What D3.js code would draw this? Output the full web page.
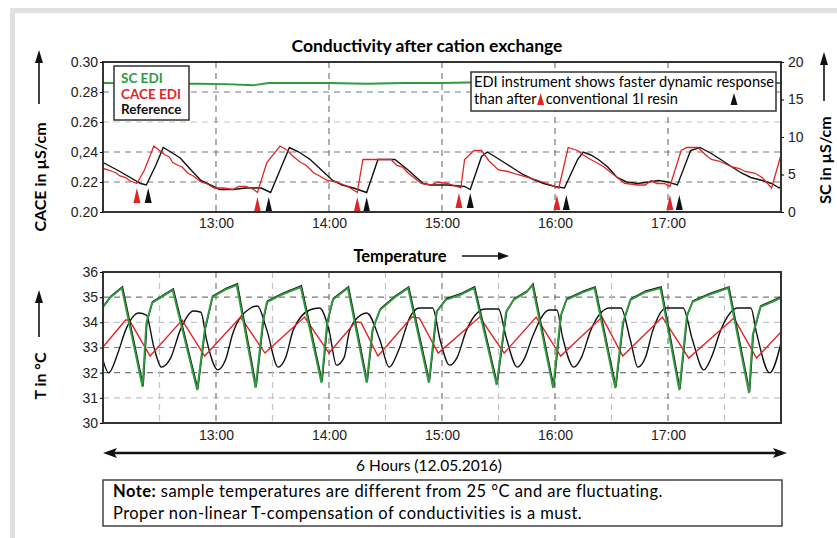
<!DOCTYPE html>
<html>
<head>
<meta charset="utf-8">
<script src="https://cdn.jsdelivr.net/npm/d3@7"></script>
<style>
body { margin: 0; background: #fff; }
svg { display: block; font-family: Lato, 'Noto Sans', sans-serif; }
.tick text { font-size: 14px; fill: #222; }
.grid line { stroke: #7a7a7a; stroke-width: 1.2; stroke-dasharray: 6,5; }
.grid line.minor { stroke: #c4c4c4; }
</style>
</head>
<body>
<svg id="chart" width="837" height="538"></svg>
<script>
// time is given in minutes after 12:00 (12.05.2016)
var startTime = new Date(2016, 4, 12, 12, 0);
var hourLabels = ['13:00', '14:00', '15:00', '16:00', '17:00'];
var caceTickValues = [0.20, 0.22, 0.24, 0.26, 0.28, 0.30];
var caceTickLabels = ['0.20', '0.22', '0,24', '0.26', '0.28', '0.30'];
var scTickValues = [0, 5, 10, 15, 20];
var tempTickValues = [30, 31, 32, 33, 34, 35, 36];

// conductivity plot
var scEdi = [[0,17.2],[15,17.15],[30,17.1],[50,17.1],[65,17.05],[80,16.9],[88,17.2],[100,17.2],[120,17.2],[140,17.1],[160,17.2],[180,17.2],[200,17.3],[215,17.2],[230,17.2],[245,17.0],[260,17.1],[280,17.1],[300,17.2],[320,17.1],[340,17.2],[360,17.2]];

var caceEdi = [[0,0.229],[3,0.228],[5,0.227],[7,0.226],[9,0.224],[12,0.223],[14,0.221],[18,0.219],[22,0.228],[27,0.244],[30,0.241],[33,0.238],[35,0.237],[37,0.233],[40,0.231],[42,0.230],[45,0.226],[48,0.224],[52,0.220],[55,0.219],[59,0.216],[64,0.216],[69,0.215],[72,0.217],[76,0.217],[80,0.215],[82,0.213],[87,0.233],[94,0.244],[98,0.241],[101,0.237],[105,0.233],[108,0.231],[112,0.226],[115,0.224],[119,0.221],[124,0.220],[130,0.217],[135,0.213],[138,0.235],[144,0.235],[153,0.235],[156,0.231],[159,0.230],[162,0.226],[166,0.222],[169,0.219],[174,0.218],[178,0.220],[183,0.219],[190,0.216],[192,0.235],[197,0.241],[201,0.241],[205,0.234],[210,0.228],[215,0.227],[220,0.225],[226,0.223],[231,0.221],[238,0.218],[242,0.216],[247,0.243],[252,0.241],[255,0.238],[259,0.235],[262,0.233],[266,0.230],[270,0.226],[277,0.219],[284,0.218],[288,0.218],[291,0.221],[294,0.219],[298,0.219],[301,0.217],[307,0.241],[310,0.243],[316,0.243],[320,0.238],[323,0.235],[327,0.234],[334,0.230],[338,0.229],[341,0.227],[346,0.226],[350,0.223],[355,0.216],[360,0.238]];

var caceRef = [[0,0.233],[9,0.227],[20,0.219],[23,0.218],[28,0.231],[32,0.243],[36,0.240],[41,0.236],[46,0.229],[52,0.221],[57,0.218],[62,0.215],[69,0.215],[76,0.216],[84,0.216],[89,0.213],[94,0.228],[99,0.243],[104,0.240],[110,0.235],[116,0.228],[122,0.221],[127,0.218],[133,0.216],[140,0.213],[146,0.235],[151,0.235],[155,0.235],[162,0.228],[170,0.219],[174,0.218],[183,0.218],[192,0.217],[195,0.215],[201,0.237],[204,0.240],[208,0.237],[213,0.233],[218,0.229],[223,0.225],[228,0.222],[234,0.219],[240,0.217],[245,0.216],[252,0.235],[255,0.240],[259,0.238],[263,0.235],[268,0.230],[273,0.223],[278,0.220],[284,0.219],[290,0.220],[295,0.221],[300,0.220],[305,0.218],[312,0.241],[317,0.243],[320,0.241],[323,0.239],[328,0.235],[334,0.230],[339,0.226],[344,0.223],[350,0.221],[355,0.219],[359,0.216],[360,0.217]];

// regeneration markers [minute, tip level in µS/cm]
var caceMarks = [[18,0.216],[82,0.210],[135,0.210],[189,0.2127],[241,0.2113],[301,0.2113]];
var refMarks = [[24,0.216],[88,0.210],[140,0.210],[195,0.2127],[246,0.2113],[306,0.2113]];

// temperature plot
var tempSc = [[0,34.6],[4,35.0],[10,35.36],[21.3,31.43],[23.9,33.97],[26.6,34.77],[31,35.0],[37.2,35.28],[50,31.31],[54.2,33.7],[58.5,35.0],[65,35.3],[71.3,35.48],[81.9,31.4],[85.1,34.1],[87.2,34.8],[95,35.1],[105.8,35.4],[116.5,31.6],[119.7,34.0],[122.3,34.9],[130.3,35.36],[140.9,31.6],[143.6,33.69],[147.3,34.49],[155,35.0],[162.2,35.36],[173.9,31.6],[177.6,34.4],[182.9,34.89],[190,35.1],[197.8,35.36],[209.5,31.51],[214.8,34.4],[218,34.89],[225,35.2],[228.7,35.48],[239.8,31.39],[243,34.25],[246.8,34.89],[255,35.2],[261.6,35.36],[272.3,31.39],[276.5,33.97],[280.3,34.89],[288,35.2],[296.2,35.36],[306.9,31.31],[310.6,34.25],[313.8,34.81],[322,35.1],[332.4,35.36],[343,31.19],[345.7,33.5],[349.4,34.61],[355,34.8],[360,34.97]];

var tempCace = [[0,33.02],[12.8,34.09],[14,34.09],[25,32.66],[42,34.09],[54.2,32.66],[73.9,34.21],[86.2,32.78],[107.4,34.21],[120.7,32.78],[134,34.01],[137,34.0],[146.2,32.66],[164.9,34.21],[168,34.17],[178.2,32.78],[200.5,34.21],[213.8,32.78],[230.8,34.21],[243,32.66],[265.9,34.21],[276,32.66],[297.8,34.21],[311.1,32.58],[335,34.17],[347.8,32.58],[360,33.62]];

var tempRef = [[0,32.5],[3.7,31.99],[8,32.8],[12.8,33.69],[19.7,34.37],[23.4,34.29],[27.7,33.02],[31.9,32.22],[36,32.6],[41,33.69],[48,34.45],[52,34.4],[55.3,33.3],[61.2,32.11],[65,32.5],[69.1,33.58],[78,34.55],[82,34.65],[87.2,33.69],[93.1,32.22],[97,32.6],[101,33.69],[110,34.5],[115.4,34.57],[120.7,33.69],[124.4,32.3],[128,32.6],[131.4,33.69],[137,34.3],[140.4,34.37],[147.3,33.30],[152.6,32.22],[157,32.9],[163.3,34.21],[168,34.57],[175,34.57],[179.2,33.30],[184.5,32.3],[188,32.6],[193.6,33.69],[203,34.53],[210,34.53],[214.8,33.42],[220.7,32.22],[224,32.6],[228.7,33.42],[237.7,34.49],[241.4,34.49],[244.6,33.42],[250,32.22],[254,32.6],[259,33.69],[269.6,34.57],[275,34.57],[280.3,33.30],[284,32.22],[288,32.6],[292.5,33.69],[299.9,34.57],[308.5,34.57],[313.8,33.30],[319.1,32.11],[323,32.6],[328.1,33.69],[337.2,34.57],[344.1,34.57],[347.8,33.58],[354.7,31.99],[360,33.18]];

var colors = { sc: '#2f9a3e', cace: '#e12526', ref: '#111' };

var svg = d3.select('#chart');

function toTime(m) { return d3.timeMinute.offset(startTime, m); }
function hourTime(label) {
	var p = label.split(':');
	return new Date(2016, 4, 12, +p[0], +p[1]);
}

var x = d3.scaleTime()
	.domain([startTime, toTime(360)])
	.range([103, 781]);

drawFrame();
drawConductivity();
drawTemperature();
drawFooter();

function drawFrame() {
	svg.append('rect').attr('x', 10).attr('y', 8).attr('width', 827).attr('height', 5).attr('fill', '#e1e1e1');
	svg.append('rect').attr('x', 10).attr('y', 8).attr('width', 5).attr('height', 530).attr('fill', '#e1e1e1');
}

function upArrow(g, cx, y0, y1) {
	g.append('line').attr('x1', cx).attr('x2', cx).attr('y1', y0).attr('y2', y1 + 10)
		.attr('stroke', '#111').attr('stroke-width', 1.6);
	g.append('path')
		.attr('d', 'M' + (cx - 4) + ',' + (y1 + 13) + ' L' + cx + ',' + y1 + ' L' + (cx + 4) + ',' + (y1 + 13) + ' Z')
		.attr('fill', '#111');
}

function triangle(cx, tipY, w, h) {
	return 'M' + (cx - w / 2) + ',' + (tipY + h) + ' L' + cx + ',' + tipY + ' L' + (cx + w / 2) + ',' + (tipY + h) + ' Z';
}

function gridLines(g, yScale, yValues, minorY, xValues, minorX, top, bottom) {
	var grid = g.append('g').attr('class', 'grid');
	grid.selectAll('.hgrid')
		.data(yValues)
		.enter()
		.append('line')
		.attr('class', function(d) { return minorY.indexOf(d) >= 0 ? 'hgrid minor' : 'hgrid' })
		.attr('x1', x.range()[0]).attr('x2', x.range()[1])
		.attr('y1', function(d) { return yScale(d) }).attr('y2', function(d) { return yScale(d) });
	grid.selectAll('.vgrid')
		.data(xValues)
		.enter()
		.append('line')
		.attr('class', function(d) { return minorX.indexOf(d) >= 0 ? 'vgrid minor' : 'vgrid' })
		.attr('x1', function(d) { return x(toTime(d)) }).attr('x2', function(d) { return x(toTime(d)) })
		.attr('y1', top).attr('y2', bottom);
}

function drawConductivity() {
	var y = d3.scaleLinear().domain([0.20, 0.30]).range([212, 62]);
	var ySc = d3.scaleLinear().domain([0, 20]).range([212, 62]);
	var g = svg.append('g');

	g.append('text')
		.attr('x', 427).attr('y', 52)
		.attr('text-anchor', 'middle')
		.attr('font-weight', 'bold').attr('font-size', 17.5)
		.text('Conductivity after cation exchange');

	gridLines(g, y, [0.22, 0.24, 0.26, 0.28], [0.26], [60, 120, 180, 240, 300], [], 62, 212);

	var line = d3.line()
		.x(function(d) { return x(toTime(d[0])) })
		.y(function(d) { return y(d[1]) });
	var lineSc = d3.line()
		.x(function(d) { return x(toTime(d[0])) })
		.y(function(d) { return ySc(d[1]) });

	g.append('path').attr('d', lineSc(scEdi)).attr('fill', 'none').attr('stroke', colors.sc).attr('stroke-width', 1.8);
	g.append('path').attr('d', line(caceRef)).attr('fill', 'none').attr('stroke', colors.ref).attr('stroke-width', 1.4);
	g.append('path').attr('d', line(caceEdi)).attr('fill', 'none').attr('stroke', colors.cace).attr('stroke-width', 1.3);

	g.selectAll('.mark-cace')
		.data(caceMarks)
		.enter()
		.append('path')
		.attr('d', function(d) { return triangle(x(toTime(d[0])), y(d[1]), 7, 15) })
		.attr('fill', colors.cace);
	g.selectAll('.mark-ref')
		.data(refMarks)
		.enter()
		.append('path')
		.attr('d', function(d) { return triangle(x(toTime(d[0])), y(d[1]), 7, 15) })
		.attr('fill', colors.ref);

	// plot frame
	g.append('rect')
		.attr('x', 103).attr('y', 62).attr('width', 678).attr('height', 150)
		.attr('fill', 'none').attr('stroke', '#333').attr('stroke-width', 2);

	// axes
	g.append('g')
		.attr('transform', 'translate(103,0)')
		.call(d3.axisLeft(y).tickValues(caceTickValues).tickSize(3).tickPadding(2)
			.tickFormat(function(d, i) { return caceTickLabels[i] }))
		.call(function(a) { a.select('.domain').remove() });
	g.append('g')
		.attr('transform', 'translate(781,0)')
		.call(d3.axisRight(ySc).tickValues(scTickValues).tickSize(3).tickPadding(4))
		.call(function(a) { a.select('.domain').remove() });
	g.append('g')
		.attr('transform', 'translate(0,212)')
		.call(d3.axisBottom(x).tickValues(hourLabels.map(hourTime)).tickSize(0).tickPadding(6)
			.tickFormat(d3.timeFormat('%H:%M')))
		.call(function(a) { a.select('.domain').remove() });

	// legend
	var legend = g.append('g').attr('transform', 'translate(114,66)');
	legend.append('rect').attr('width', 75).attr('height', 54)
		.attr('fill', '#fff').attr('stroke', '#333').attr('stroke-width', 1.5);
	legend.selectAll('text')
		.data([['SC EDI', colors.sc], ['CACE EDI', colors.cace], ['Reference', colors.ref]])
		.enter()
		.append('text')
		.attr('x', 7).attr('y', function(d, i) { return 17 + i * 15.5 })
		.attr('font-weight', 'bold').attr('font-size', 13.5)
		.attr('fill', function(d) { return d[1] })
		.text(function(d) { return d[0] });

	// annotation
	var note = g.append('g').attr('transform', 'translate(471,72)');
	note.append('rect').attr('width', 305).attr('height', 39)
		.attr('fill', '#fff').attr('stroke', '#333').attr('stroke-width', 1.5);
	note.append('text').attr('x', 3).attr('y', 15).attr('font-size', 14.6)
		.text('EDI instrument shows faster dynamic response');
	var t1 = note.append('text').attr('x', 3).attr('y', 32).attr('font-size', 14.6).text('than after');
	var w1 = t1.node().getComputedTextLength();
	note.append('path').attr('d', triangle(3 + w1 + 4, 21, 7, 12)).attr('fill', colors.cace);
	note.append('text').attr('x', 3 + w1 + 9).attr('y', 32).attr('font-size', 14.6).text('conventional 1l resin');
	note.append('path').attr('d', triangle(263, 21, 7, 12)).attr('fill', colors.ref);

	// axis titles
	svg.append('text')
		.attr('transform', 'translate(39,177) rotate(-90)')
		.attr('text-anchor', 'middle').attr('dominant-baseline', 'central')
		.attr('font-weight', 'bold').attr('font-size', 16)
		.text('CACE in µS/cm');
	upArrow(svg, 39, 104, 50);
	svg.append('text')
		.attr('transform', 'translate(824,160) rotate(-90)')
		.attr('text-anchor', 'middle').attr('dominant-baseline', 'central')
		.attr('font-weight', 'bold').attr('font-size', 16)
		.text('SC in µS/cm');
	upArrow(svg, 824, 101, 52);
}

function drawTemperature() {
	var y = d3.scaleLinear().domain([30, 36]).range([423, 272]);
	var g = svg.append('g');

	g.append('text')
		.attr('x', 400).attr('y', 262)
		.attr('text-anchor', 'middle')
		.attr('font-weight', 'bold').attr('font-size', 16.5)
		.text('Temperature');
	g.append('line').attr('x1', 462).attr('x2', 500).attr('y1', 256).attr('y2', 256)
		.attr('stroke', '#111').attr('stroke-width', 1.6);
	g.append('path').attr('d', 'M498,252 L509,256 L498,260 Z').attr('fill', '#111');

	gridLines(g, y, [31, 32, 33, 34, 35], [31, 34],
		[30, 60, 90, 120, 150, 180, 210, 240, 270, 300, 330],
		[30, 90, 150, 210, 270, 330], 272, 423);

	var line = d3.line()
		.x(function(d) { return x(toTime(d[0])) })
		.y(function(d) { return y(d[1]) });

	g.append('path').attr('d', line.curve(d3.curveMonotoneX)(tempRef)).attr('fill', 'none').attr('stroke', colors.ref).attr('stroke-width', 1.4);
	line.curve(d3.curveLinear);
	g.append('path').attr('d', line(tempCace)).attr('fill', 'none').attr('stroke', colors.cace).attr('stroke-width', 1.4);
	// reference sample sensor runs almost on top of the SC EDI sensor
	g.append('path').attr('d', line(tempSc)).attr('transform', 'translate(0.6,-1.2)')
		.attr('fill', 'none').attr('stroke', colors.ref).attr('stroke-width', 1.5);
	g.append('path').attr('d', line(tempSc)).attr('fill', 'none').attr('stroke', colors.sc).attr('stroke-width', 1.9);

	g.append('rect')
		.attr('x', 103).attr('y', 272).attr('width', 678).attr('height', 151)
		.attr('fill', 'none').attr('stroke', '#333').attr('stroke-width', 2);

	g.append('g')
		.attr('transform', 'translate(103,0)')
		.call(d3.axisLeft(y).tickValues(tempTickValues).tickSize(3).tickPadding(2).tickFormat(d3.format('d')))
		.call(function(a) { a.select('.domain').remove() });
	g.append('g')
		.attr('transform', 'translate(0,423)')
		.call(d3.axisBottom(x).tickValues(hourLabels.map(hourTime)).tickSize(0).tickPadding(7)
			.tickFormat(d3.timeFormat('%H:%M')))
		.call(function(a) { a.select('.domain').remove() });

	svg.append('text')
		.attr('transform', 'translate(39,376) rotate(-90)')
		.attr('text-anchor', 'middle').attr('dominant-baseline', 'central')
		.attr('font-weight', 'bold').attr('font-size', 16)
		.text('T in °C');
	upArrow(svg, 39, 337, 290);
}

function drawFooter() {
	var g = svg.append('g');
	g.append('line').attr('x1', 110).attr('x2', 780).attr('y1', 453).attr('y2', 453)
		.attr('stroke', '#111').attr('stroke-width', 2.4);
	g.append('path').attr('d', 'M103,453 L117,448 L114,453 L117,458 Z').attr('fill', '#111');
	g.append('path').attr('d', 'M787,453 L773,448 L776,453 L773,458 Z').attr('fill', '#111');
	g.append('text').attr('x', 429).attr('y', 471).attr('text-anchor', 'middle').attr('font-size', 15.5)
		.text('6 Hours (12.05.2016)');

	g.append('rect').attr('x', 103).attr('y', 480).attr('width', 679).attr('height', 46)
		.attr('fill', '#fff').attr('stroke', '#444').attr('stroke-width', 1.5);
	var t = g.append('text').attr('x', 113).attr('y', 497).attr('font-size', 16.5).attr('letter-spacing', 0.45);
	t.append('tspan').attr('font-weight', 'bold').text('Note:');
	t.append('tspan').text(' sample temperatures are different from 25 °C and are fluctuating.');
	g.append('text').attr('x', 113).attr('y', 519).attr('font-size', 16.5).attr('letter-spacing', 0.45)
		.text('Proper non-linear T-compensation of conductivities is a must.');
}
</script>
</body>
</html>
